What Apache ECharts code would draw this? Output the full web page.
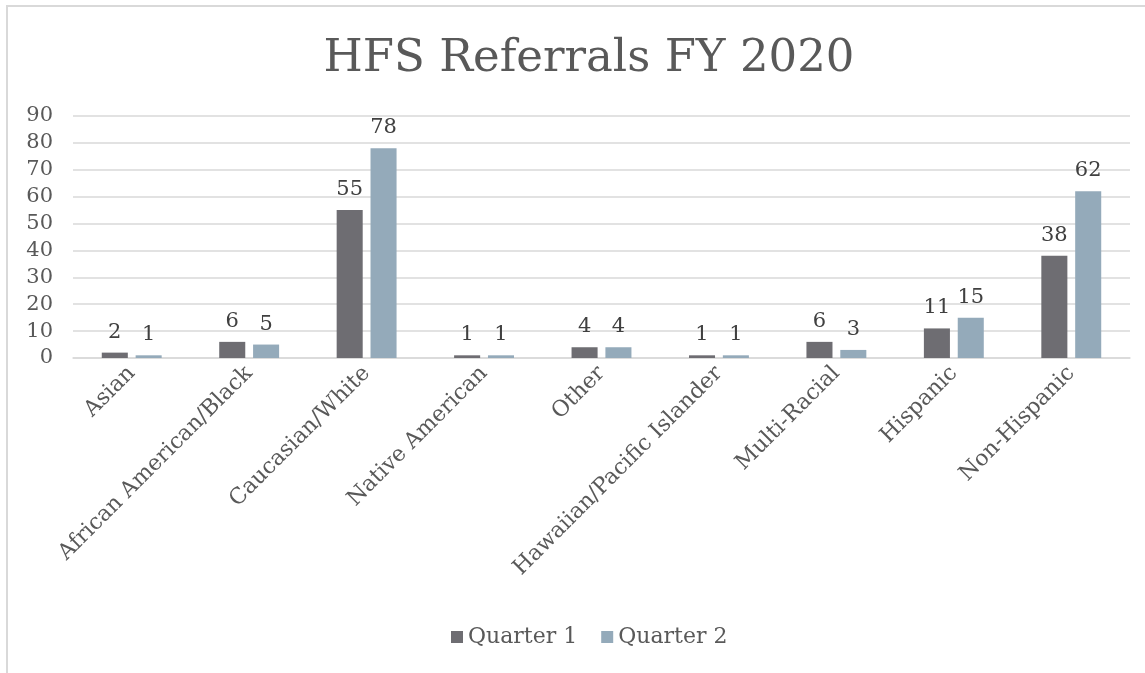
<!DOCTYPE html>
<html>
<head>
<meta charset="utf-8">
<script src="https://cdn.jsdelivr.net/npm/echarts@6/dist/echarts.min.js"></script>
<style>
html,body{margin:0;padding:0;background:#fff;}
#chart{width:1145px;height:673px;}
.frame{position:absolute;left:6px;top:5px;width:1145px;height:680px;border-left:2px solid #d9d9d9;border-top:2px solid #d9d9d9;pointer-events:none;}
</style>
</head>
<body>
<div id="chart"></div>
<div class="frame"></div>
<script>
const categories = ['Asian', 'African American/Black', 'Caucasian/White', 'Native American', 'Other',
  'Hawaiian/Pacific Islander', 'Multi-Racial', 'Hispanic', 'Non-Hispanic'];
const quarter1 = [2, 6, 55, 1, 4, 1, 6, 11, 38];
const quarter2 = [1, 5, 78, 1, 4, 1, 3, 15, 62];
const yTicks = [0, 90, 10]; // min, max, interval

const font = 'DejaVu Serif';
const textColor = '#595959';

const chart = echarts.init(document.getElementById('chart'));
chart.setOption({
  animation: false,
  title: {
    text: 'HFS Referrals FY 2020',
    left: 584,
    textAlign: 'center',
    top: 32,
    textStyle: {fontFamily: font, fontSize: 45, fontWeight: 'normal', color: textColor}
  },
  legend: {
    bottom: 20,
    left: 446,
    itemWidth: 12,
    itemHeight: 12,
    itemGap: 24,
    icon: 'rect',
    textStyle: {fontFamily: font, fontSize: 22, color: textColor}
  },
  grid: {top: 116, bottom: 315, left: 73, right: 15},
  xAxis: {
    type: 'category',
    data: categories,
    axisTick: {show: false},
    axisLine: {lineStyle: {color: '#d9d9d9', width: 1.5}},
    axisLabel: {rotate: 45, interval: 0, fontFamily: font, fontSize: 22, color: textColor, margin: 12}
  },
  yAxis: {
    type: 'value',
    min: yTicks[0],
    max: yTicks[1],
    interval: yTicks[2],
    axisLine: {show: false},
    axisTick: {show: false},
    splitLine: {lineStyle: {color: '#d9d9d9', width: 1.5}},
    axisLabel: {fontFamily: font, fontSize: 21, color: textColor, margin: 20}
  },
  series: [
    {
      name: 'Quarter 1',
      type: 'bar',
      data: quarter1,
      barGap: '30%',
      barCategoryGap: '49%',
      itemStyle: {color: '#6e6d72'},
      label: {show: true, position: 'top', distance: 10, fontFamily: font, fontSize: 21, color: '#404040'}
    },
    {
      name: 'Quarter 2',
      type: 'bar',
      data: quarter2,
      itemStyle: {color: '#94aaba'},
      label: {show: true, position: 'top', distance: 10, fontFamily: font, fontSize: 21, color: '#404040'}
    }
  ]
});
</script>
</body>
</html>
